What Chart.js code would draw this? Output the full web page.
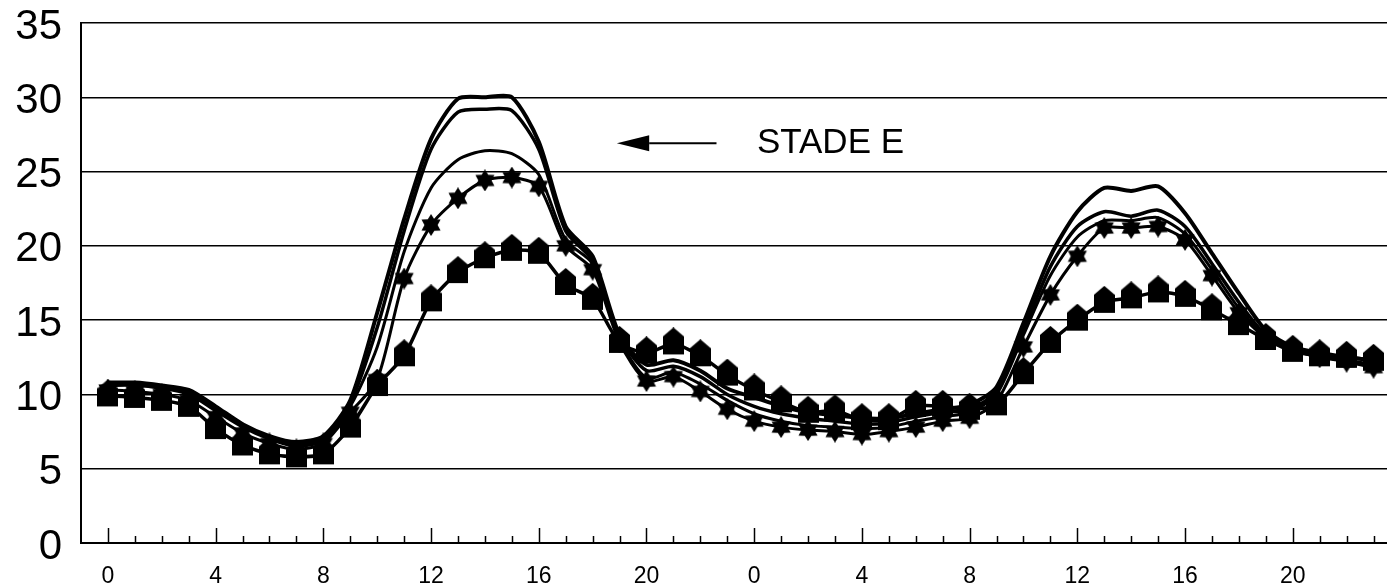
<!DOCTYPE html>
<html>
<head>
<meta charset="utf-8">
<script src="https://cdn.jsdelivr.net/npm/chart.js@4.4.0/dist/chart.umd.min.js"></script>
<style>
html,body{margin:0;padding:0;background:#fff;}
#wrap{width:1387px;height:584px;position:relative;}
canvas{display:block;}
</style>
</head>
<body>
<div id="wrap"><canvas id="c" width="1387" height="584"></canvas></div>
<script>
// ---- data ----
const hourLabels = [0,1,2,3,4,5,6,7,8,9,10,11,12,13,14,15,16,17,18,19,20,21,22,23,
                    0,1,2,3,4,5,6,7,8,9,10,11,12,13,14,15,16,17,18,19,20,21,22,23];
const yTicks = [0,5,10,15,20,25,30,35];

const seriesA = [10.8,10.8,10.6,10.3,9.2,8.0,7.2,6.8,7.2,9.6,15.5,21.8,
                 27.2,29.9,30.0,30.0,27.0,21.3,19.3,14.0,12.0,12.3,11.6,10.4,
                 9.8,9.2,8.8,8.6,8.4,8.4,8.7,9.0,9.3,10.5,14.8,19.3,
                 22.3,23.9,23.7,24.0,22.2,19.5,16.8,14.3,13.2,12.8,12.5,12.3];
const seriesB = [10.7,10.7,10.5,10.1,9.0,7.9,7.1,6.6,7.0,9.4,14.5,21.0,
                 26.5,29.0,29.2,29.1,26.5,21.0,19.0,13.9,11.6,11.9,11.2,10.0,
                 9.2,8.7,8.4,8.2,8.0,8.1,8.5,8.8,9.0,10.2,14.3,18.6,
                 21.3,22.3,22.0,22.4,21.3,18.8,16.2,14.0,13.1,12.7,12.3,12.0];
const seriesC = [10.6,10.6,10.4,10.0,8.9,7.8,7.0,6.5,6.9,9.2,13.2,19.6,
                 23.9,25.8,26.4,26.2,24.8,20.4,18.8,13.7,11.1,11.5,10.7,9.6,
                 8.7,8.2,7.9,7.8,7.7,7.8,8.2,8.5,8.8,10.0,14.0,18.0,
                 20.6,21.7,21.7,21.9,20.8,18.4,15.8,13.9,13.0,12.6,12.2,11.9];
const seriesStar = [10.3,10.2,10.0,9.6,8.5,7.4,6.7,6.3,6.7,8.8,11.0,17.8,
                    21.4,23.2,24.4,24.6,24.0,20.0,18.4,13.5,10.9,11.2,10.2,9.0,
                    8.2,7.8,7.6,7.5,7.3,7.5,7.8,8.2,8.4,9.5,13.2,16.7,
                    19.3,21.2,21.2,21.3,20.4,18.0,15.5,13.8,13.0,12.5,12.2,11.8];
const seriesSquare = [9.9,9.8,9.6,9.2,7.7,6.6,6.0,5.8,6.0,7.8,10.6,12.6,
                      16.3,18.2,19.2,19.7,19.5,17.4,16.4,13.5,12.8,13.4,12.6,11.3,
                      10.3,9.5,8.8,8.9,8.3,8.3,9.2,9.2,9.0,9.3,11.4,13.5,
                      15.0,16.2,16.5,16.9,16.6,15.7,14.7,13.7,12.9,12.6,12.5,12.3];

const stadeText = 'STADE E';
const arrowTipHour = 18.9, arrowHeadBaseHour = 20.1, arrowTailHour = 22.6, arrowValue = 26.9;
const stadeTextHour = 24.1;

// ---- marker images ----
function makeStar(size){
  const c = document.createElement('canvas');
  c.width = size; c.height = size;
  const g = c.getContext('2d');
  const cx = size/2, cy = size/2, ro = size/2, ri = ro*0.6;
  g.beginPath();
  for (let i=0;i<12;i++){
    const r = i%2===0 ? ro : ri;
    const a = -Math.PI/2 + i*Math.PI/6;
    const px = cx + r*Math.cos(a), py = cy + r*Math.sin(a);
    if(i===0) g.moveTo(px,py); else g.lineTo(px,py);
  }
  g.closePath(); g.fillStyle='#000'; g.fill();
  return c;
}
function makeHouse(w, roof){
  const h = w + 2*roof;
  const c = document.createElement('canvas');
  c.width = w; c.height = h;
  const g = c.getContext('2d');
  g.fillStyle='#000';
  g.beginPath();
  g.moveTo(0, roof+3);
  g.lineTo(w/2, 0);
  g.lineTo(w, roof+3);
  g.lineTo(w, roof+w);
  g.lineTo(0, roof+w);
  g.closePath();
  g.fill();
  return c;
}
const starImg = makeStar(22);
const houseImg = makeHouse(21, 6);

const toPts = arr => arr.map((v,i)=>({x:i, y:v}));

const FONT = "'Liberation Sans', Arial, sans-serif";

const overlay = {
  id:'overlay',
  afterDatasetsDraw(chart){
    const {ctx, scales:{x, y}} = chart;
    ctx.save();
    // inner tick marks on x axis
    const y0 = y.getPixelForValue(0);
    ctx.strokeStyle = '#000';
    ctx.lineWidth = 1.5;
    for (let i=0;i<hourLabels.length;i++){
      const px = Math.round(x.getPixelForValue(i)) + 0.5;
      const len = (hourLabels[i] % 4 === 0) ? 15 : 7;
      ctx.beginPath();
      ctx.moveTo(px, y0);
      ctx.lineTo(px, y0 - len);
      ctx.stroke();
    }
    // arrow + label
    const ay = y.getPixelForValue(arrowValue);
    const tipX = x.getPixelForValue(arrowTipHour);
    const baseX = x.getPixelForValue(arrowHeadBaseHour);
    const tailX = x.getPixelForValue(arrowTailHour);
    ctx.fillStyle = '#000';
    ctx.beginPath();
    ctx.moveTo(tipX, ay);
    ctx.lineTo(baseX, ay - 8);
    ctx.lineTo(baseX, ay + 8);
    ctx.closePath();
    ctx.fill();
    ctx.lineWidth = 2;
    ctx.beginPath();
    ctx.moveTo(baseX, ay);
    ctx.lineTo(tailX, ay);
    ctx.stroke();
    ctx.font = "35px " + FONT;
    ctx.textBaseline = 'middle';
    ctx.textAlign = 'left';
    ctx.fillText(stadeText, x.getPixelForValue(stadeTextHour), ay);
    ctx.restore();
  }
};

const lineDs = (data, w) => ({
  data: toPts(data), borderColor:'#000', backgroundColor:'#000',
  borderWidth: w, pointRadius: 0, tension: 0.25, fill:false
});

new Chart(document.getElementById('c'), {
  type: 'line',
  data: {
    datasets: [
      Object.assign(lineDs(seriesSquare, 3.5), {pointStyle: houseImg, pointRadius: 10}),
      Object.assign(lineDs(seriesStar, 3), {pointStyle: starImg, pointRadius: 10}),
      lineDs(seriesC, 3),
      lineDs(seriesB, 3.5),
      lineDs(seriesA, 4)
    ]
  },
  options: {
    responsive: false,
    animation: false,
    devicePixelRatio: 1,
    layout: { autoPadding: false, padding: { top: 23, left: 0, right: 0, bottom: 0 } },
    plugins: { legend: {display:false}, tooltip: {enabled:false} },
    scales: {
      x: {
        type: 'linear', min: -1, max: 47.5, position: 'bottom',
        grid: { display: false, drawTicks: false },
        border: { display: true, color: '#000', width: 2 },
        ticks: {
          stepSize: 1, autoSkip: false, maxRotation: 0, minRotation: 0,
          color: '#000', padding: 22,
          font: { family: "'Liberation Sans Narrow', " + FONT, size: 23, lineHeight: 1 },
          callback: v => (Number.isInteger(v) && v >= 0 && v < hourLabels.length && hourLabels[v] % 4 === 0) ? String(hourLabels[v]) : ''
        },
        afterFit: s => { s.height = 41; s.paddingLeft = 0; s.paddingRight = 0; }
      },
      y: {
        type: 'linear', min: 0, max: 35,
        afterBuildTicks: s => { s.ticks = yTicks.map(v => ({value: v})); },
        grid: { color: '#000', lineWidth: 1.5, drawTicks: false },
        border: { display: true, color: '#000', width: 2 },
        ticks: {
          color: '#000', padding: 19, labelOffset: 4,
          font: { family: FONT, size: 42, lineHeight: 1 }
        },
        afterFit: s => { s.width = 81; s.paddingTop = 0; s.paddingBottom = 0; }
      }
    }
  },
  plugins: [overlay]
});
</script>
</body>
</html>
